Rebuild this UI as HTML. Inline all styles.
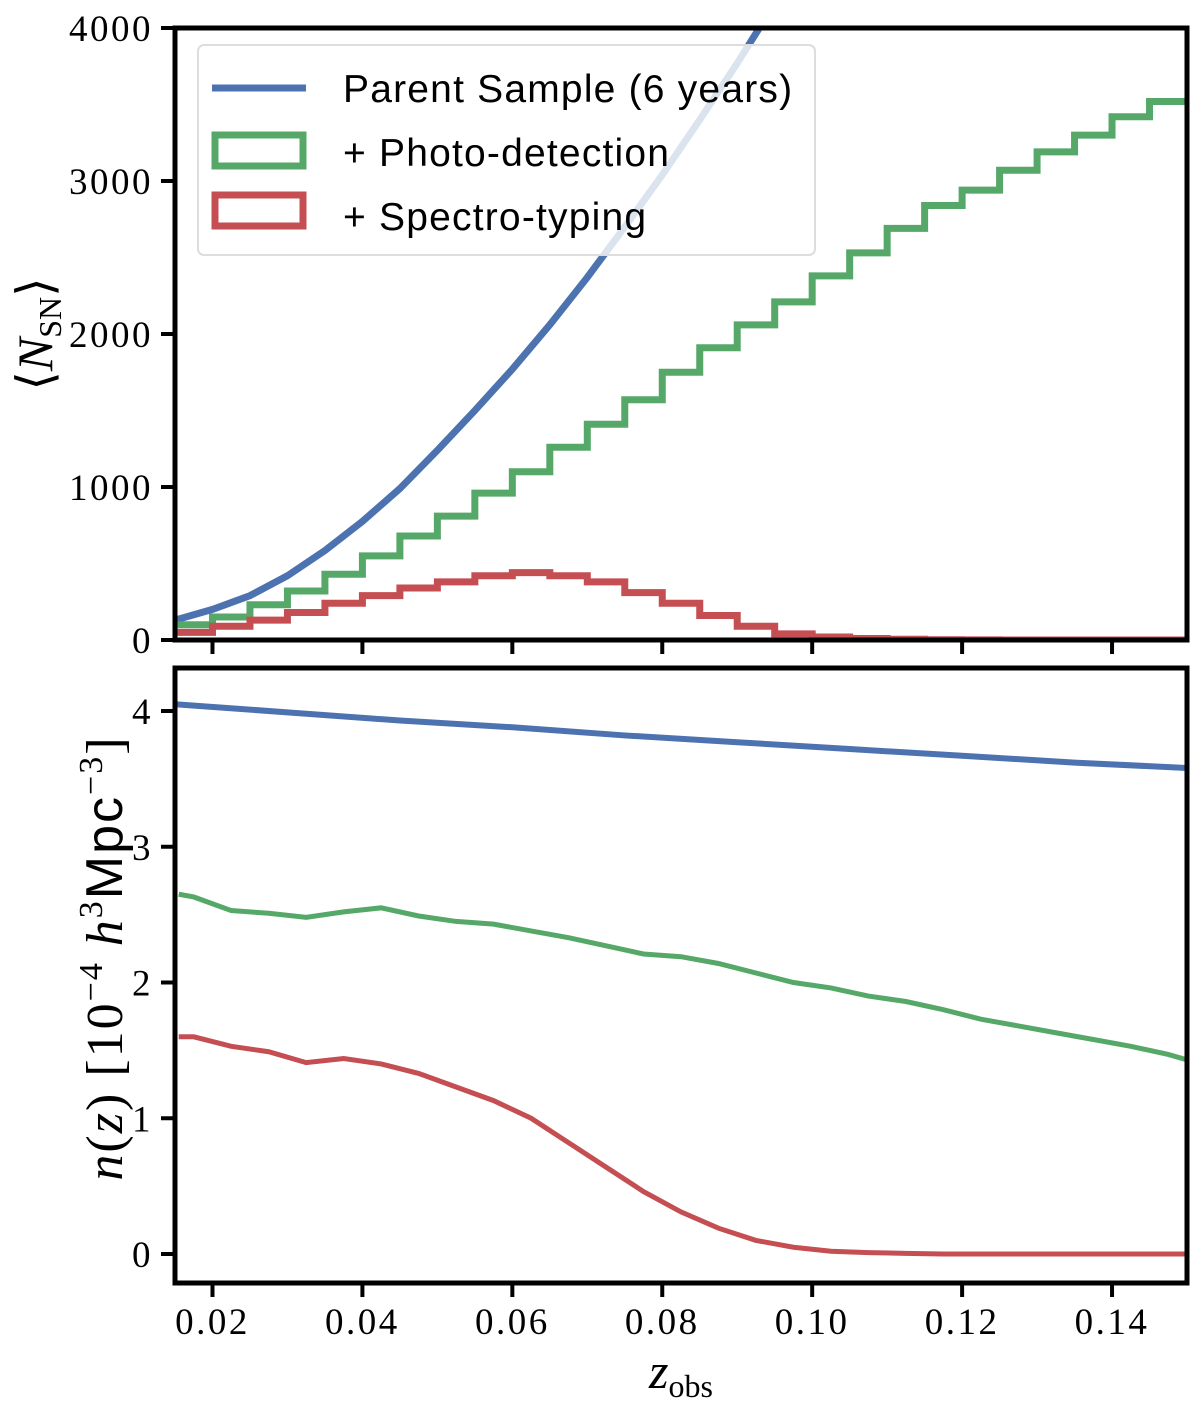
<!DOCTYPE html>
<html><head><meta charset="utf-8"><style>
html,body{margin:0;padding:0;background:#fff;}
svg{display:block;}
.tk{font-family:"Liberation Serif",serif;font-size:37px;letter-spacing:2.5px;fill:#000;}
.lg{font-family:"Liberation Sans",sans-serif;font-size:39px;letter-spacing:1.2px;fill:#000;}
</style></head><body>
<svg id="chart" width="1200" height="1408" viewBox="0 0 1200 1408" xmlns="http://www.w3.org/2000/svg">
<defs>
<clipPath id="ct"><rect x="175" y="28" width="1012" height="612"/></clipPath>
<clipPath id="cb"><rect x="175" y="668" width="1012" height="615"/></clipPath>
</defs>
<g id="topPanel"></g>
<g id="botPanel"></g>
</svg>
<script>
// data
const binEdgesStart = 0.015;
const binWidth = 0.005;
const greenCounts = [100,150,230,320,430,550,680,810,960,1100,1260,1410,1570,1750,1910,2060,2210,2380,2530,2690,2840,2940,3070,3190,3300,3420,3520];
const redCounts = [50,90,130,180,240,290,340,380,420,440,420,380,310,240,160,90,40,20,10,5,2,1,0,0,0,0,0];
const parentZ = [0.015,0.02,0.025,0.03,0.035,0.04,0.045,0.05,0.055,0.06,0.065,0.07,0.075,0.08,0.085,0.09,0.095,0.1];
const parentN = [130,200,290,420,585,775,990,1240,1500,1770,2060,2370,2700,3040,3400,3770,4160,4560];
const nzBlueZ = [0.015,0.03,0.045,0.06,0.075,0.09,0.105,0.12,0.135,0.15];
const nzBlue = [4.05,3.99,3.93,3.88,3.82,3.77,3.72,3.67,3.62,3.58];
const nzZ = [0.0155,0.0175,0.0225,0.0275,0.0325,0.0375,0.0425,0.0475,0.0525,0.0575,0.0625,0.0675,0.0725,0.0775,0.0825,0.0875,0.0925,0.0975,0.1025,0.1075,0.1125,0.1175,0.1225,0.1275,0.1325,0.1375,0.1425,0.1475,0.15];
const nzGreen = [2.65,2.63,2.53,2.51,2.48,2.52,2.55,2.49,2.45,2.43,2.38,2.33,2.27,2.21,2.19,2.14,2.07,2.00,1.96,1.90,1.86,1.80,1.73,1.68,1.63,1.58,1.53,1.47,1.43];
const nzRed = [1.60,1.60,1.53,1.49,1.41,1.44,1.40,1.33,1.23,1.13,1.00,0.82,0.64,0.46,0.31,0.19,0.10,0.05,0.02,0.01,0.005,0,0,0,0,0,0,0,0];
const xTicks = [0.02,0.04,0.06,0.08,0.10,0.12,0.14];
const xTickLabels = ["0.02","0.04","0.06","0.08","0.10","0.12","0.14"];
const yTopTicks = [0,1000,2000,3000,4000];
const yBotTicks = [0,1,2,3,4];

const NS="http://www.w3.org/2000/svg";
const X = z => 175 + (z-0.015)/(0.135)*1012;
const YT = v => 640 - v/4000*612;
const YB = v => 1254 - v*135.75;
const C={blue:"#4c72b0",green:"#55a868",red:"#c44e52"};
function mk(p,tag,at){const e=document.createElementNS(NS,tag);for(const k in at)e.setAttribute(k,at[k]);p.appendChild(e);return e;}
const gTop=document.getElementById('topPanel'), gBot=document.getElementById('botPanel');

function stepPath(arr){let d="";arr.forEach((v,i)=>{const x0=X(binEdgesStart+i*binWidth),x1=X(binEdgesStart+(i+1)*binWidth),y=YT(v);d+=(i?"L":"M")+x0+","+y+"L"+x1+","+y;});return d;}
function linePath(xs,ys,fy){return xs.map((z,i)=>(i?"L":"M")+X(z)+","+fy(ys[i])).join("");}

const gt=mk(gTop,'g',{'clip-path':'url(#ct)'});
let e=mk(gt,'path',{d:linePath(parentZ,parentN,YT),fill:'none',stroke:C.blue,'stroke-width':7});


e=mk(gt,'path',{d:stepPath(greenCounts),fill:'none',stroke:C.green,'stroke-width':7});


e=mk(gt,'path',{d:stepPath(redCounts),fill:'none',stroke:C.red,'stroke-width':7});



const gb=mk(gBot,'g',{'clip-path':'url(#cb)'});
e=mk(gb,'path',{d:linePath(nzBlueZ,nzBlue,YB),fill:'none',stroke:C.blue,'stroke-width':6});


e=mk(gb,'path',{d:linePath(nzZ,nzGreen,YB),fill:'none',stroke:C.green,'stroke-width':5});


e=mk(gb,'path',{d:linePath(nzZ,nzRed,YB),fill:'none',stroke:C.red,'stroke-width':5});



e=mk(gTop,'rect',{x:175,y:28,width:1012,height:612,fill:'none',stroke:'#000','stroke-width':5});


e=mk(gBot,'rect',{x:175,y:668,width:1012,height:615,fill:'none',stroke:'#000','stroke-width':5});



xTicks.forEach((z,i)=>{
  let t=mk(gTop,'line',{x1:X(z),x2:X(z),y1:640,y2:654,stroke:'#000','stroke-width':4});
  
  
  t=mk(gBot,'line',{x1:X(z),x2:X(z),y1:1283,y2:1297,stroke:'#000','stroke-width':4});
  
  
  t=mk(gBot,'text',{x:X(z),y:1334,'text-anchor':'middle',class:'tk'});t.textContent=xTickLabels[i];
  
  
});
yTopTicks.forEach(v=>{
  let t=mk(gTop,'line',{x1:161,x2:175,y1:YT(v),y2:YT(v),stroke:'#000','stroke-width':4});
  
  
  t=mk(gTop,'text',{x:153,y:YT(v)+13,'text-anchor':'end',class:'tk'});t.textContent=v;
  
  
});
yBotTicks.forEach(v=>{
  let t=mk(gBot,'line',{x1:161,x2:175,y1:YB(v),y2:YB(v),stroke:'#000','stroke-width':4});
  
  
  t=mk(gBot,'text',{x:153,y:YB(v)+13,'text-anchor':'end',class:'tk'});t.textContent=v;
  
  
});

let yt=mk(gTop,'text',{transform:'translate(52,334) rotate(-90)','text-anchor':'middle',style:'font-family:"Liberation Serif",serif;font-size:50px'});
yt.innerHTML='⟨<tspan font-style="italic">N</tspan><tspan font-size="32" dy="9">SN</tspan><tspan dy="-9">⟩</tspan>';


let yb=mk(gBot,'text',{transform:'translate(122,958) rotate(-90)','text-anchor':'middle',style:'font-family:"Liberation Serif",serif;font-size:52px;letter-spacing:2px'});
yb.innerHTML='<tspan font-style="italic">n</tspan>(<tspan font-style="italic">z</tspan>) [10<tspan font-size="34" dy="-20">−4</tspan><tspan dy="20"> </tspan><tspan font-style="italic">h</tspan><tspan font-size="34" dy="-20">3</tspan><tspan dy="20" font-family="Liberation Sans">Mpc</tspan><tspan font-size="34" dy="-20">−3</tspan><tspan dy="20">]</tspan>';


let xt=mk(gBot,'text',{x:681,y:1388,'text-anchor':'middle',style:'font-family:"Liberation Serif",serif;font-size:50px'});
xt.innerHTML='<tspan font-style="italic">z</tspan><tspan font-size="32" dy="9">obs</tspan>';



const lg=mk(gTop,'g',{});


mk(lg,'rect',{x:198,y:45,width:617,height:210,rx:6,fill:'#fff','fill-opacity':0.8,stroke:'#ddd','stroke-width':2});
e=mk(lg,'line',{x1:212,x2:306,y1:88,y2:88,stroke:C.blue,'stroke-width':7});


e=mk(lg,'rect',{x:215,y:135,width:88,height:31,fill:'none',stroke:C.green,'stroke-width':7});


e=mk(lg,'rect',{x:215,y:195,width:88,height:31,fill:'none',stroke:C.red,'stroke-width':7});


[["Parent Sample (6 years)",102],["+ Photo-detection",166],["+ Spectro-typing",230]].forEach(([s,y])=>{
  const t=mk(lg,'text',{x:343,y:y,class:'lg'});t.textContent=s;
  
  
});
</script>
</body></html>
